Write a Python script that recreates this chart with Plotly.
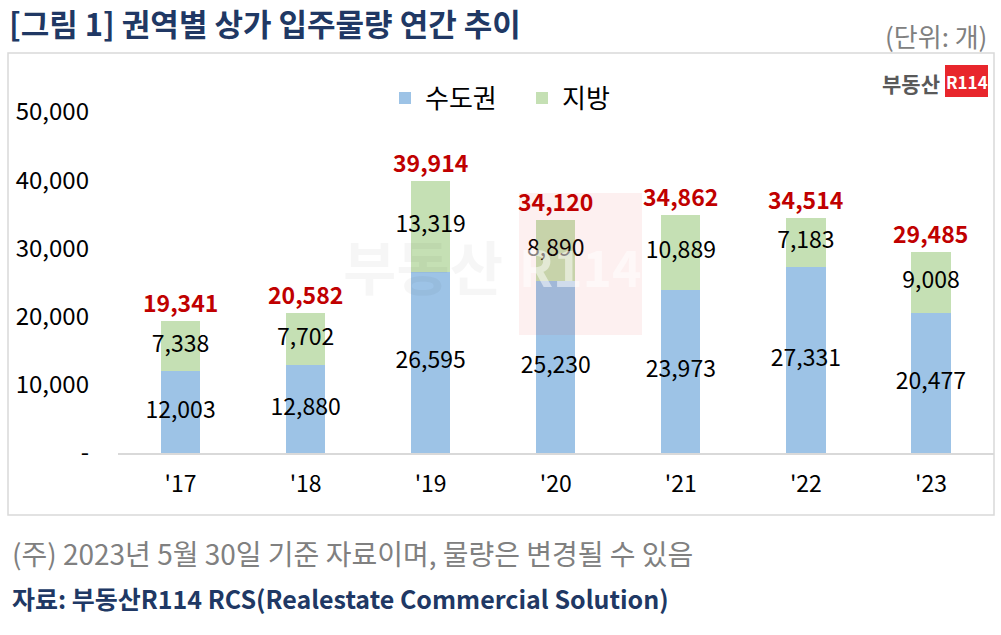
import plotly.graph_objects as go

years = ["'17", "'18", "'19", "'20", "'21", "'22", "'23"]
metro = [12003, 12880, 26595, 25230, 23973, 27331, 20477]
region = [7338, 7702, 13319, 8890, 10889, 7183, 9008]
totals = [19341, 20582, 39914, 34120, 34862, 34514, 29485]
ytick_vals = [0, 10000, 20000, 30000, 40000, 50000]
ytick_text = ["-", "10,000", "20,000", "30,000", "40,000", "50,000"]

W, H = 1001, 635
FONT = "Noto Sans CJK KR"
BLUE = "#9DC3E6"
GREEN = "#C5E0B4"


def px(x):
    return x / W


def py(y):
    return 1 - y / H


fig = go.Figure()
fig.add_trace(go.Bar(x=years, y=metro, name="수도권", marker=dict(color=BLUE, line=dict(width=0))))
fig.add_trace(go.Bar(x=years, y=region, name="지방", marker=dict(color=GREEN, line=dict(width=0))))

# segment labels
fig.add_trace(go.Scatter(
    x=years, y=[m / 2 for m in metro], mode="text",
    text=[f"{v:,}" for v in metro], textposition="middle center",
    textfont=dict(family=FONT, size=23, color="#000000"), showlegend=False, hoverinfo="skip"))
fig.add_trace(go.Scatter(
    x=years, y=[m + r / 2 for m, r in zip(metro, region)], mode="text",
    text=[f"{v:,}" for v in region], textposition="middle center",
    textfont=dict(family=FONT, size=23, color="#000000"), showlegend=False, hoverinfo="skip"))

shapes = [
    # outer box
    dict(type="rect", xref="paper", yref="paper", x0=px(8), x1=px(994), y0=py(515), y1=py(53),
         line=dict(color="#D9D9D9", width=1.5), fillcolor="rgba(0,0,0,0)", layer="below"),
    # watermark pink box
    dict(type="rect", xref="paper", yref="paper", x0=px(519), x1=px(642), y0=py(335), y1=py(193),
         line=dict(width=0), fillcolor="rgba(232,38,44,0.07)", layer="above"),
    # logo red box
    dict(type="rect", xref="paper", yref="paper", x0=px(945), x1=px(988), y0=py(97), y1=py(65),
         line=dict(width=0), fillcolor="#E8262C", layer="above"),
]

annotations = [
    dict(text="<b>[그림 1] 권역별 상가 입주물량 연간 추이</b>", x=px(7), y=py(22), xref="paper", yref="paper",
         xanchor="left", yanchor="middle", showarrow=False,
         font=dict(family=FONT, size=31, color="#203864")),
    dict(text="(단위: 개)", x=px(989), y=py(36), xref="paper", yref="paper",
         xanchor="right", yanchor="middle", showarrow=False,
         font=dict(family=FONT, size=26, color="#808080")),
    dict(text="(주) 2023년 5월 30일 기준 자료이며, 물량은 변경될 수 있음", x=px(10), y=py(553), xref="paper", yref="paper",
         xanchor="left", yanchor="middle", showarrow=False,
         font=dict(family=FONT, size=28, color="#808080")),
    dict(text="<b>자료: 부동산R114 RCS(Realestate Commercial Solution)</b>", x=px(10), y=py(598), xref="paper", yref="paper",
         xanchor="left", yanchor="middle", showarrow=False,
         font=dict(family=FONT, size=25, color="#203864")),
    dict(text="<b>부동산</b>", x=px(911), y=py(83), xref="paper", yref="paper",
         xanchor="center", yanchor="middle", showarrow=False,
         font=dict(family=FONT, size=21, color="#595959")),
    dict(text="<b>R114</b>", x=px(966.5), y=py(81), xref="paper", yref="paper",
         xanchor="center", yanchor="middle", showarrow=False,
         font=dict(family=FONT, size=17, color="#FFFFFF")),
    # watermark text
    dict(text="<b>부동산</b>", x=px(423), y=py(265), xref="paper", yref="paper",
         xanchor="center", yanchor="middle", showarrow=False,
         font=dict(family=FONT, size=58, color="rgba(0,0,0,0.035)")),
    dict(text="<b>R114</b>", x=px(580), y=py(265), xref="paper", yref="paper",
         xanchor="center", yanchor="middle", showarrow=False,
         font=dict(family=FONT, size=50, color="rgba(255,255,255,0.5)")),
]

# total labels above each stacked bar
for yr, t in zip(years, totals):
    annotations.append(dict(
        text=f"<b>{t:,}</b>", x=yr, y=t, xref="x", yref="y",
        xanchor="center", yanchor="middle", yshift=19, showarrow=False,
        font=dict(family=FONT, size=23, color="#C00000")))

fig.update_layout(
    width=W, height=H,
    margin=dict(l=0, r=0, t=0, b=0, autoexpand=False),
    paper_bgcolor="white", plot_bgcolor="white",
    barmode="stack", bargap=0.686,
    font=dict(family=FONT, size=23, color="#000000"),
    showlegend=True,
    legend=dict(orientation="h", x=px(385), y=py(98), xanchor="left", yanchor="middle",
                font=dict(family=FONT, size=26, color="#000000"), itemwidth=30,
                entrywidth=92,
                bgcolor="rgba(0,0,0,0)", traceorder="normal"),
    xaxis=dict(domain=[px(118), px(993.5)], showgrid=False, zeroline=False, automargin=False,
               showline=True, linecolor="#D9D9D9", linewidth=1.5,
               ticks="", tickfont=dict(family=FONT, size=23, color="#000000"),
               ticklabelstandoff=10, fixedrange=True),
    yaxis=dict(domain=[py(453), py(112)], range=[0, 50000], showgrid=False, zeroline=False,
               automargin=False,
               showline=False, tickmode="array", tickvals=ytick_vals, ticktext=ytick_text,
               ticks="", tickfont=dict(family=FONT, size=24, color="#000000"),
               ticklabelstandoff=28, fixedrange=True),
    shapes=shapes,
    annotations=annotations,
)

fig.write_html("out.html")
